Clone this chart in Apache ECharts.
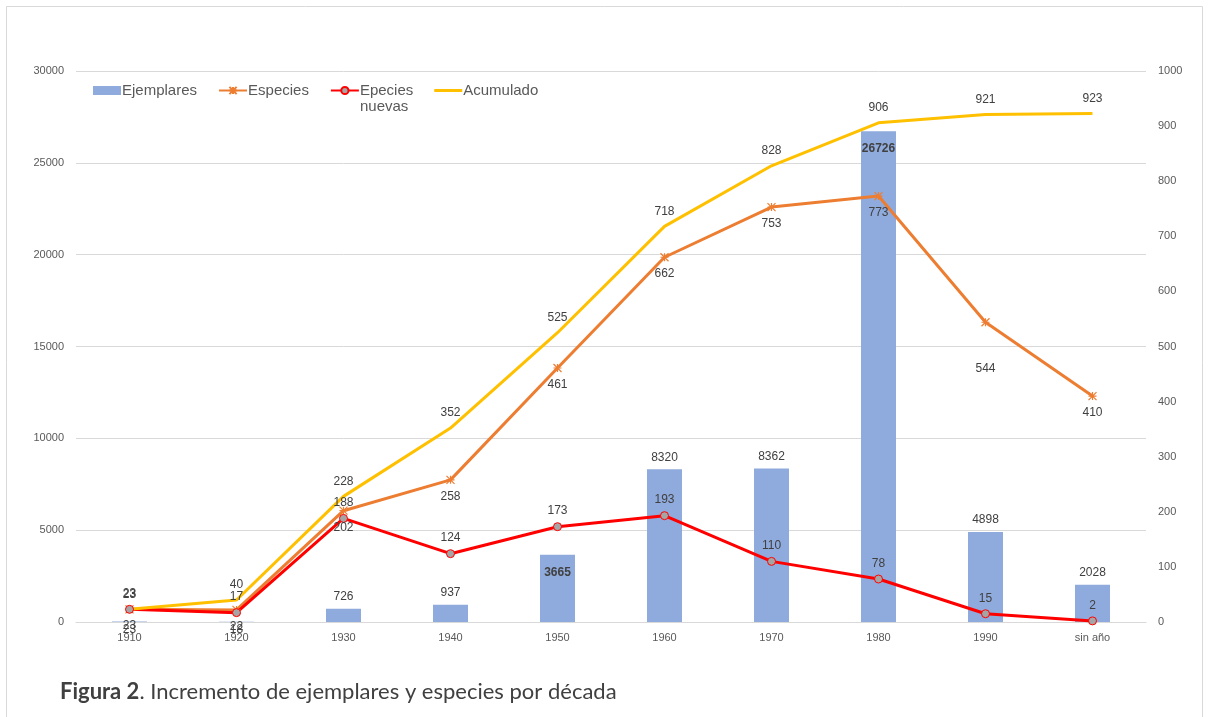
<!DOCTYPE html>
<html>
<head>
<meta charset="utf-8">
<script src="https://cdn.jsdelivr.net/npm/echarts@6/dist/echarts.min.js"></script>
<style>
html,body{margin:0;padding:0;background:#fff;}
#chart{width:1209px;height:717px;}
</style>
</head>
<body>
<div id="chart"></div>
<script>
const categories = ['1910','1920','1930','1940','1950','1960','1970','1980','1990','sin año'];
const ejemplares = [23, 18, 726, 937, 3665, 8320, 8362, 26726, 4898, 2028];
const especies = [23, 22, 202, 258, 461, 662, 753, 773, 544, 410];
const especiesNuevas = [23, 17, 188, 124, 173, 193, 110, 78, 15, 2];
const acumulado = [23, 40, 228, 352, 525, 718, 828, 906, 921, 923];
const leftTicks = [0, 5000, 10000, 15000, 20000, 25000, 30000];
const rightTicks = [0, 100, 200, 300, 400, 500, 600, 700, 800, 900, 1000];

const chart = echarts.init(document.getElementById('chart'));
const lblColor = '#404040';
const axisColor = '#595959';
const font = 'Liberation Sans, Arial, sans-serif';

const barData = ejemplares.map(function(v){
  let label;
  if (v < 100) {
    label = {position: 'bottom', distance: 2};
  } else if (v === 3665 || v === 26726) {
    label = {position: 'insideTop', fontWeight: 'bold', distance: 12};
  } else {
    label = {position: 'top'};
  }
  return {value: v, label: label};
});

const especiesData = especies.map(function(v, i){
  // the 1990 label sits further below its point in the reference
  return categories[i] === '1990' ? {value: v, label: {distance: 36}} : v;
});

const asterisk = 'path://M0,0L10,10M10,0L0,10M5,0L5,10M0,5L10,5';

chart.setOption({
  animation: false,
  textStyle: {fontFamily: font},
  graphic: [
    {type: 'rect', shape: {x: 6.5, y: 6.5, width: 1196, height: 740}, style: {fill: 'none', stroke: '#d9d9d9', lineWidth: 1}, silent: true},
    {type: 'text', left: 360, top: 99, style: {text: 'nuevas', fontSize: 15, fill: axisColor, fontFamily: font}},
    {type: 'text', left: 60, top: 681, style: {
      text: '{b|Figura 2}. Incremento de ejemplares y especies por década',
      rich: {b: {fontWeight: 'bold', fontSize: 22, fill: '#404040', fontFamily: 'Lato, Open Sans, sans-serif'}},
      fontSize: 22, fill: '#404040', fontFamily: 'Lato, Open Sans, sans-serif'
    }}
  ],
  legend: {
    left: 88, top: 78,
    itemWidth: 28, itemHeight: 9, itemGap: 21,
    textStyle: {fontSize: 15, color: axisColor, fontFamily: font, padding: [0,0,0,-4]},
    formatter: function(n){ return n === 'Epecies nuevas' ? 'Epecies' : n; },
    data: [
      {name: 'Ejemplares', icon: 'rect'},
      'Especies',
      'Epecies nuevas',
      {name: 'Acumulado', icon: 'path://M0,0H28V3H0Z'}
    ]
  },
  grid: {left: 76, right: 63, top: 71, bottom: 95, containLabel: false},
  xAxis: {
    type: 'category', data: categories,
    axisLine: {lineStyle: {color: '#d9d9d9', width: 1}},
    axisTick: {show: false},
    axisLabel: {color: axisColor, fontSize: 11, margin: 10}
  },
  yAxis: [
    {type: 'value', min: 0, max: 30000, interval: 5000,
     axisLine: {show: false}, axisTick: {show: false},
     axisLabel: {color: axisColor, fontSize: 11, margin: 12,
       formatter: function(v){ return leftTicks.indexOf(v) >= 0 ? String(v) : ''; }},
     splitLine: {lineStyle: {color: '#d9d9d9', width: 1}}},
    {type: 'value', min: 0, max: 1000, interval: 100,
     axisLine: {show: false}, axisTick: {show: false},
     axisLabel: {color: axisColor, fontSize: 11, margin: 12,
       formatter: function(v){ return rightTicks.indexOf(v) >= 0 ? String(v) : ''; }},
     splitLine: {show: false}}
  ],
  series: [
    {name: 'Ejemplares', type: 'bar', yAxisIndex: 0, data: barData, barWidth: 35,
     itemStyle: {color: '#8FAADC'},
     label: {show: true, color: lblColor, fontSize: 12, distance: 6}},
    {name: 'Especies', type: 'line', yAxisIndex: 1, data: especiesData,
     lineStyle: {color: '#ED7D31', width: 3},
     itemStyle: {color: '#ED7D31', borderColor: '#ED7D31', borderWidth: 1.2},
     symbol: asterisk, symbolSize: 8, showAllSymbol: true,
     label: {show: true, position: 'bottom', color: lblColor, fontSize: 12, distance: 6}},
    {name: 'Epecies nuevas', type: 'line', yAxisIndex: 1, data: especiesNuevas,
     lineStyle: {color: '#FF0000', width: 3},
     itemStyle: {color: '#A5A5A5', borderColor: '#FF0000', borderWidth: 1},
     symbol: 'circle', symbolSize: 8, showAllSymbol: true,
     label: {show: true, position: 'top', color: lblColor, fontSize: 12, distance: 5}},
    {name: 'Acumulado', type: 'line', yAxisIndex: 1, data: acumulado,
     lineStyle: {color: '#FFC000', width: 3},
     itemStyle: {color: '#FFC000'},
     symbol: 'circle', symbolSize: 0, showAllSymbol: true,
     label: {show: true, position: 'top', color: lblColor, fontSize: 12, distance: 9}}
  ]
});
</script>
</body>
</html>
